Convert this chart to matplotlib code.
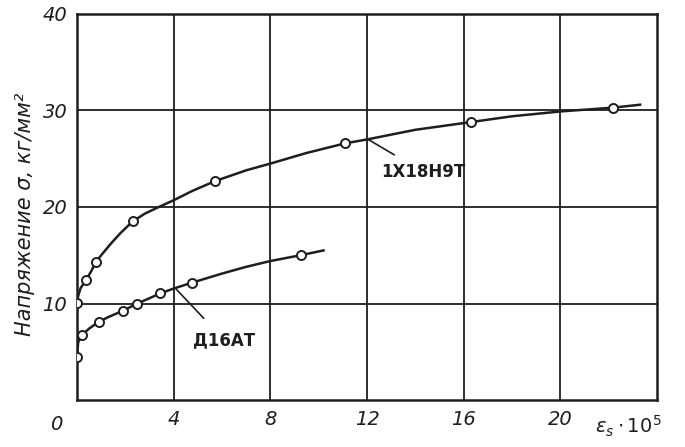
import matplotlib
matplotlib.use("Agg")
import matplotlib.pyplot as plt

# --- data ---
# 1X18H9T: measured points and the drawn curve
steel_x = [0.0, 0.37, 0.78, 2.3, 5.73, 11.1, 16.3, 22.2]
steel_y = [10.1, 12.4, 14.3, 18.5, 22.7, 26.6, 28.8, 30.3]
steel_curve_x = [0.0, 0.05, 0.15, 0.37, 0.6, 0.78, 1.0, 1.4, 1.8, 2.3, 2.8, 3.3, 4.0, 4.8,
                 5.73, 7.0, 8.0, 9.5, 11.1, 12.0, 14.0, 16.3, 18.0, 20.0, 22.2, 23.3]
steel_curve_y = [10.1, 10.8, 11.6, 12.4, 13.4, 14.3, 15.0, 16.2, 17.3, 18.5, 19.3, 19.9, 20.7,
                 21.7, 22.7, 23.8, 24.5, 25.6, 26.6, 27.0, 28.0, 28.8, 29.4, 29.9, 30.3, 30.6]

# Д16АТ: measured points and the drawn curve
alu_x = [0.0, 0.2, 0.9, 1.9, 2.5, 3.45, 4.75, 9.25]
alu_y = [4.5, 6.7, 8.1, 9.25, 10.0, 11.05, 12.15, 15.0]
alu_curve_x = [0.0, 0.05, 0.2, 0.5, 0.9, 1.3, 1.9, 2.5, 3.0, 3.45, 4.0, 4.75, 6.0, 7.0, 8.0, 9.25, 10.2]
alu_curve_y = [4.5, 6.0, 6.7, 7.4, 8.1, 8.6, 9.25, 10.0, 10.55, 11.05, 11.55, 12.15, 13.1, 13.8, 14.4, 15.0, 15.5]

x_ticks = [4, 8, 12, 16, 20]
x_tick_labels = ["4", "8", "12", "16", "20"]
y_ticks = [10, 20, 30, 40]
y_tick_labels = ["10", "20", "30", "40"]

ink = "#1e1e1e"
fam = ["DejaVu Sans"]

fig = plt.figure(figsize=(6.85, 4.47), dpi=100)
ax = fig.add_axes([77/685, 1-400/447, (657-77)/685, (400-14)/447])
ax.set_xlim(0, 24)
ax.set_ylim(0, 40)

for v in x_ticks:
    ax.axvline(v, color=ink, lw=1.3, zorder=1)
for v in y_ticks[:-1]:
    ax.axhline(v, color=ink, lw=1.3, zorder=1)

ax.plot(steel_curve_x, steel_curve_y, color=ink, lw=1.8, zorder=2)
ax.plot(alu_curve_x, alu_curve_y, color=ink, lw=1.8, zorder=2)
ax.plot(steel_x, steel_y, ls="none", marker="o", ms=6.5, mfc="white", mec=ink, mew=1.4, zorder=3)
ax.plot(alu_x, alu_y, ls="none", marker="o", ms=6.5, mfc="white", mec=ink, mew=1.4, zorder=3)

for s in ax.spines.values():
    s.set_linewidth(1.8)
    s.set_color(ink)

ax.set_xticks(x_ticks)
ax.set_xticklabels(x_tick_labels)
ax.set_yticks(y_ticks)
ax.set_yticklabels(y_tick_labels)
ax.tick_params(length=0, pad=7, labelsize=14, colors=ink)
for lab in ax.get_xticklabels() + ax.get_yticklabels():
    lab.set_fontstyle("italic")
    lab.set_family(fam)

ax.text(-0.6, -1.6, "0", ha="right", va="top", fontsize=14, style="italic",
        family=fam, color=ink, clip_on=False)
ax.text(22.8, -1.4, r"$\mathit{\varepsilon_s}\cdot\mathit{10^5}$", ha="center", va="top",
        fontsize=14, color=ink, clip_on=False)

ax.set_ylabel("Напряжение σ, кг/мм²", fontsize=15, style="italic", family=fam,
              color=ink)
ax.yaxis.set_label_coords(-0.072, 0.48)

# annotations
ax.annotate("1X18H9T", xy=(12.05, 27.0), xytext=(14.35, 23.6), ha="center", va="center",
            fontsize=12, fontweight="bold", family=fam, color=ink,
            arrowprops=dict(arrowstyle="-", color=ink, lw=1.2, shrinkA=8, shrinkB=0))
ax.annotate("Д16АТ", xy=(4.1, 11.5), xytext=(6.1, 6.2), ha="center", va="center",
            fontsize=12, fontweight="bold", family=fam, color=ink,
            arrowprops=dict(arrowstyle="-", color=ink, lw=1.2, shrinkA=10, shrinkB=0))

fig.savefig("out.png", dpi=100, facecolor="white")
